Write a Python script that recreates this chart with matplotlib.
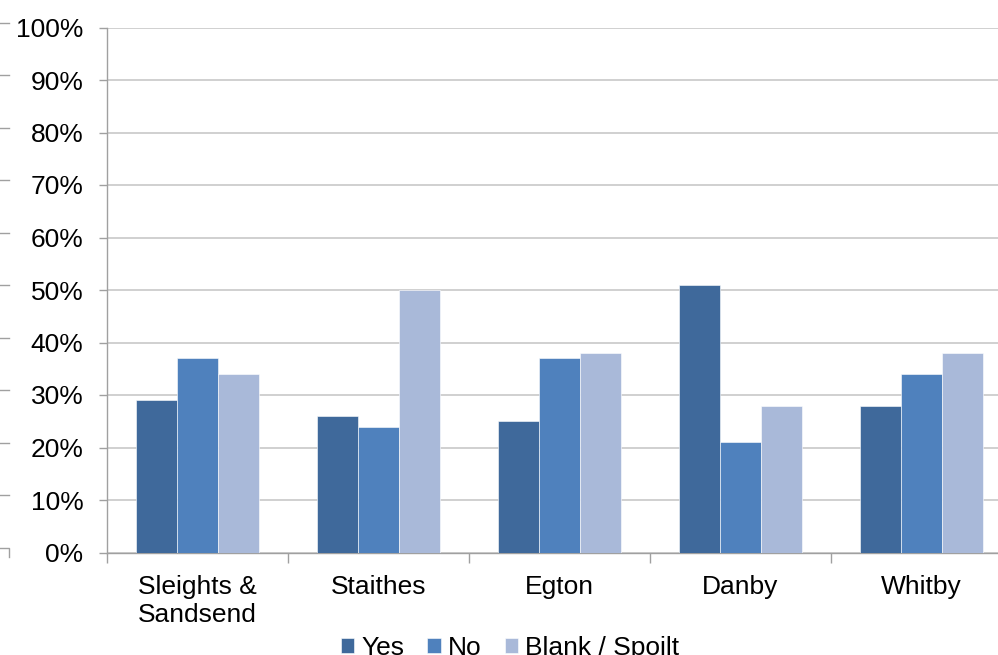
import numpy as np
import matplotlib
matplotlib.use("Agg")
from matplotlib import pyplot as plt
from matplotlib.lines import Line2D
from matplotlib.ticker import PercentFormatter

# referendum results by parish
parishes = ["Sleights &\nSandsend", "Staithes", "Egton", "Danby", "Whitby"]
yes = [29, 26, 25, 51, 28]
no = [37, 24, 37, 21, 34]
blank = [34, 50, 38, 28, 38]
series = ["Yes", "No", "Blank / Spoilt"]
colors = ["#3F699B", "#4F81BD", "#A9B9D9"]

plt.rcParams['font.family'] = ['Liberation Sans', 'DejaVu Sans']
FS = 19

W, H = 998, 655
fig = plt.figure(figsize=(W / 100, H / 100), dpi=100)
ax = fig.add_axes([107 / W, 102.5 / H, 905 / W, 525 / H])

x = np.arange(len(parishes))
bw = 0.226
handles = []
for i, (vals, c, lab) in enumerate(zip([yes, no, blank], colors, series)):
    b = ax.bar(x + (i - 1) * bw, vals, bw, color=c, label=lab,
               edgecolor="#FFFFFF", linewidth=0.4, zorder=3)
    handles.append(b)

ax.set_xlim(-0.5, len(parishes) - 0.5)
ax.set_ylim(0, 100)
ax.set_yticks(np.arange(0, 101, 10))
ax.yaxis.set_major_formatter(PercentFormatter(decimals=0))
ax.grid(axis="y", color="#D0D0D0", linewidth=1.4, zorder=0)

ax.set_xticks(x)
ax.set_xticklabels(parishes, multialignment="left", linespacing=1.2)
ax.set_xticks(np.arange(-0.5, len(parishes), 1), minor=True)
ax.tick_params(axis="x", which="major", length=0, pad=16, labelsize=FS)
ax.tick_params(axis="x", which="minor", length=7, width=1, color="#A0A0A0",
               direction="out")
ax.tick_params(axis="y", length=6, width=1, color="#A0A0A0", pad=11,
               labelsize=FS)

for s in ["top", "right"]:
    ax.spines[s].set_visible(False)
for s in ["left", "bottom"]:
    ax.spines[s].set_color("#A0A0A0")
    ax.spines[s].set_linewidth(1)

fig.legend(handles=handles, loc="center", ncol=3,
           bbox_to_anchor=(510 / W, 1 - 648 / H), frameon=False,
           fontsize=FS, handlelength=0.5, handleheight=0.5,
           handletextpad=0.28, columnspacing=0.88, borderaxespad=0)

# edge of the neighbouring chart peeking in at the left
for k in range(10):
    yy = 1 - (22.7 + k * 52.5) / H
    fig.add_artist(Line2D([0, 9 / W], [yy, yy], color="#A0A0A0", lw=1))
y0 = 1 - 548 / H
fig.add_artist(Line2D([0, 9 / W, 9 / W], [y0, y0, y0 - 9 / H],
                      color="#A0A0A0", lw=1))

fig.savefig("out.png", dpi=100)
